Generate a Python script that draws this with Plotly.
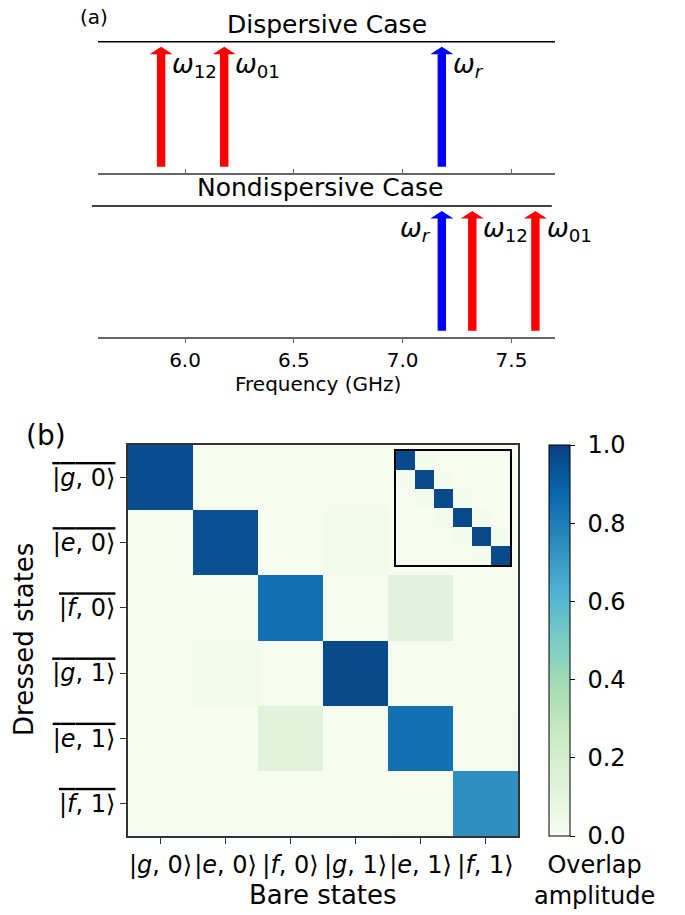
import plotly.graph_objects as go

# ---------------- data ----------------
# panel (a): transition frequencies (GHz)
disp_names = ["ω12", "ω01", "ωr"]
disp_freqs = [5.89, 6.18, 7.18]
disp_colors = ["#ff0000", "#ff0000", "#0000ff"]
disp_label_side = ["right", "right", "right"]

nondisp_names = ["ωr", "ω12", "ω01"]
nondisp_freqs = [7.18, 7.32, 7.61]
nondisp_colors = ["#0000ff", "#ff0000", "#ff0000"]
nondisp_label_side = ["left", "right", "right"]

freq_ticks = [6.0, 6.5, 7.0, 7.5]

# panel (b): overlap amplitudes (rows = dressed states, cols = bare states)
bare_labels = ["|<i>g</i>, 0⟩", "|<i>e</i>, 0⟩", "|<i>f</i>, 0⟩",
               "|<i>g</i>, 1⟩", "|<i>e</i>, 1⟩", "|<i>f</i>, 1⟩"]
dressed_labels = ["|<i>g</i>, 0⟩", "|<i>e</i>, 0⟩", "|<i>f</i>, 0⟩",
                  "|<i>g</i>, 1⟩", "|<i>e</i>, 1⟩", "|<i>f</i>, 1⟩"]
overlap = [
    [0.96, 0.01, 0.00, 0.01, 0.00, 0.00],
    [0.01, 0.95, 0.01, 0.03, 0.00, 0.00],
    [0.00, 0.01, 0.84, 0.01, 0.12, 0.00],
    [0.01, 0.03, 0.01, 0.97, 0.01, 0.00],
    [0.00, 0.00, 0.13, 0.01, 0.84, 0.01],
    [0.00, 0.00, 0.00, 0.00, 0.01, 0.74],
]
inset_overlap = [
    [0.97, 0.02, 0.00, 0.00, 0.00, 0.00],
    [0.02, 0.97, 0.02, 0.00, 0.00, 0.00],
    [0.00, 0.02, 0.97, 0.02, 0.00, 0.00],
    [0.00, 0.00, 0.02, 0.97, 0.02, 0.00],
    [0.00, 0.00, 0.00, 0.02, 0.97, 0.02],
    [0.00, 0.00, 0.00, 0.00, 0.02, 0.97],
]
cbar_ticks = [0.0, 0.2, 0.4, 0.6, 0.8, 1.0]
cbar_ticktext = ["0.0", "0.2", "0.4", "0.6", "0.8", "1.0"]

# ---------------- style ----------------
W, H = 685, 915
FONT = "DejaVu Sans"
def px_x(p): return p / W
def px_y(p): return 1 - p / H

SHAFT_HW = 0.0193   # GHz
HEAD_HW = 0.053
Y0, YHB, YTOP = 0.045, 0.905, 0.962

def arrow_xy(f):
    xs = [f - SHAFT_HW, f - SHAFT_HW, f - HEAD_HW, f, f + HEAD_HW, f + SHAFT_HW, f + SHAFT_HW, f - SHAFT_HW]
    ys = [Y0, YHB, YHB, YTOP, YHB, YHB, Y0, Y0]
    return xs, ys

def omega_text(name):
    sub = name[1:]
    if sub.isalpha():
        sub = "<i>" + sub + "</i>"
    return "<i>ω</i><sub>" + sub + "</sub>"

fig = go.Figure()
annotations = []

for (names, freqs, colors, sides, xa, ya) in [
        (disp_names, disp_freqs, disp_colors, disp_label_side, "x", "y"),
        (nondisp_names, nondisp_freqs, nondisp_colors, nondisp_label_side, "x2", "y2")]:
    for n, f, c, s in zip(names, freqs, colors, sides):
        xs, ys = arrow_xy(f)
        fig.add_trace(go.Scatter(x=xs, y=ys, fill="toself", fillcolor=c, mode="lines",
                                 line=dict(width=0, color=c), xaxis=xa, yaxis=ya,
                                 hoverinfo="skip", showlegend=False))
        off = 0.042
        annotations.append(dict(
            x=f + off if s == "right" else f - off, y=0.82, xref=xa, yref=ya,
            text=omega_text(n), showarrow=False,
            xanchor="left" if s == "right" else "right", yanchor="middle",
            font=dict(family=FONT, size=26, color="black")))

fig.add_trace(go.Heatmap(z=overlap, x=list(range(6)), y=list(range(6)),
                         colorscale="GnBu", zmin=0, zmax=1, xaxis="x3", yaxis="y3",
                         colorbar=dict(x=px_x(549), xanchor="left", xpad=0,
                                       y=px_y(836), yanchor="bottom", ypad=0,
                                       len=391, lenmode="pixels", thickness=21,
                                       thicknessmode="pixels", outlinewidth=1,
                                       outlinecolor="black", tickvals=cbar_ticks,
                                       ticktext=["\u00a0" + t for t in cbar_ticktext],
                                       ticks="outside", ticklen=5,
                                       tickcolor="black",
                                       tickfont=dict(family=FONT, size=24, color="black"))))
fig.add_trace(go.Heatmap(z=inset_overlap, x=list(range(6)), y=list(range(6)),
                         colorscale="GnBu", zmin=0, zmax=1, xaxis="x4", yaxis="y4",
                         showscale=False))

ax_a = dict(range=[5.6, 7.7], showgrid=False, zeroline=False, showline=True,
            linecolor="#666666", linewidth=2, tickvals=freq_ticks, tickcolor="#666666",
            domain=[px_x(98), px_x(555)])
fig.update_layout(
    width=W, height=H, margin=dict(l=0, r=0, t=0, b=0),
    plot_bgcolor="white", paper_bgcolor="white",
    font=dict(family=FONT, color="black"),
    xaxis=dict(**ax_a, anchor="y", ticks="inside", ticklen=4, showticklabels=False),
    yaxis=dict(range=[0, 1], domain=[px_y(172.7), px_y(41.7)], visible=False, anchor="x"),
    xaxis2=dict(**ax_a, anchor="y2", ticks="outside", ticklen=4, tickformat=".1f",
                tickfont=dict(family=FONT, size=20, color="black")),
    yaxis2=dict(range=[0, 1], domain=[px_y(336.7), px_y(206)], visible=False, anchor="x2"),
    xaxis3=dict(domain=[px_x(128), px_x(518)], range=[-0.5, 5.5], anchor="y3",
                tickvals=list(range(6)), ticktext=bare_labels, ticks="outside", ticklen=6,
                tickcolor="#333333", showline=True, mirror=True, linecolor="#333333",
                linewidth=1.5, showgrid=False, zeroline=False,
                tickfont=dict(family=FONT, size=24, color="black")),
    yaxis3=dict(domain=[px_y(836), px_y(445)], range=[5.5, -0.5], anchor="x3",
                tickvals=list(range(6)),
                ticktext=['<span style="text-decoration:overline">' + t + '</span>' for t in dressed_labels],
                ticks="outside", ticklen=6, tickcolor="#333333", showline=True, mirror=True,
                linecolor="#333333", linewidth=1.5, showgrid=False, zeroline=False,
                tickfont=dict(family=FONT, size=24, color="black")),
    xaxis4=dict(domain=[px_x(396), px_x(510)], range=[-0.5, 5.5], anchor="y4",
                showticklabels=False, ticks="", showline=True, mirror=True,
                linecolor="black", linewidth=1.5, showgrid=False, zeroline=False),
    yaxis4=dict(domain=[px_y(565), px_y(451)], range=[5.5, -0.5], anchor="x4",
                showticklabels=False, ticks="", showline=True, mirror=True,
                linecolor="black", linewidth=1.5, showgrid=False, zeroline=False),
)

fig.add_shape(type="line", xref="x domain", yref="y domain", x0=0, x1=1, y0=1, y1=1,
              line=dict(color="black", width=1.5))
fig.add_shape(type="line", xref="x2 domain", yref="y2 domain", x0=-0.013, x1=0.993, y0=1, y1=1,
              line=dict(color="black", width=1.5))

def txt(text, x, y, size, angle=0):
    return dict(text=text, x=px_x(x), y=px_y(y), xref="paper", yref="paper",
                showarrow=False, xanchor="center", yanchor="middle", textangle=angle,
                font=dict(family=FONT, size=size, color="black"))

annotations += [
    txt("(a)", 94, 17, 20),
    txt("Dispersive Case", 327, 24, 25),
    txt("Nondispersive Case", 320, 188, 25),
    txt("Frequency (GHz)", 318, 384, 20),
    txt("(b)", 46, 435, 28),
    txt("Dressed states", 24, 640, 26, -90),
    txt("Bare states", 323, 895, 26),
    txt("Overlap<br>amplitude", 594, 880, 24),
]
fig.update_layout(annotations=annotations)

fig.write_html("out.html")
